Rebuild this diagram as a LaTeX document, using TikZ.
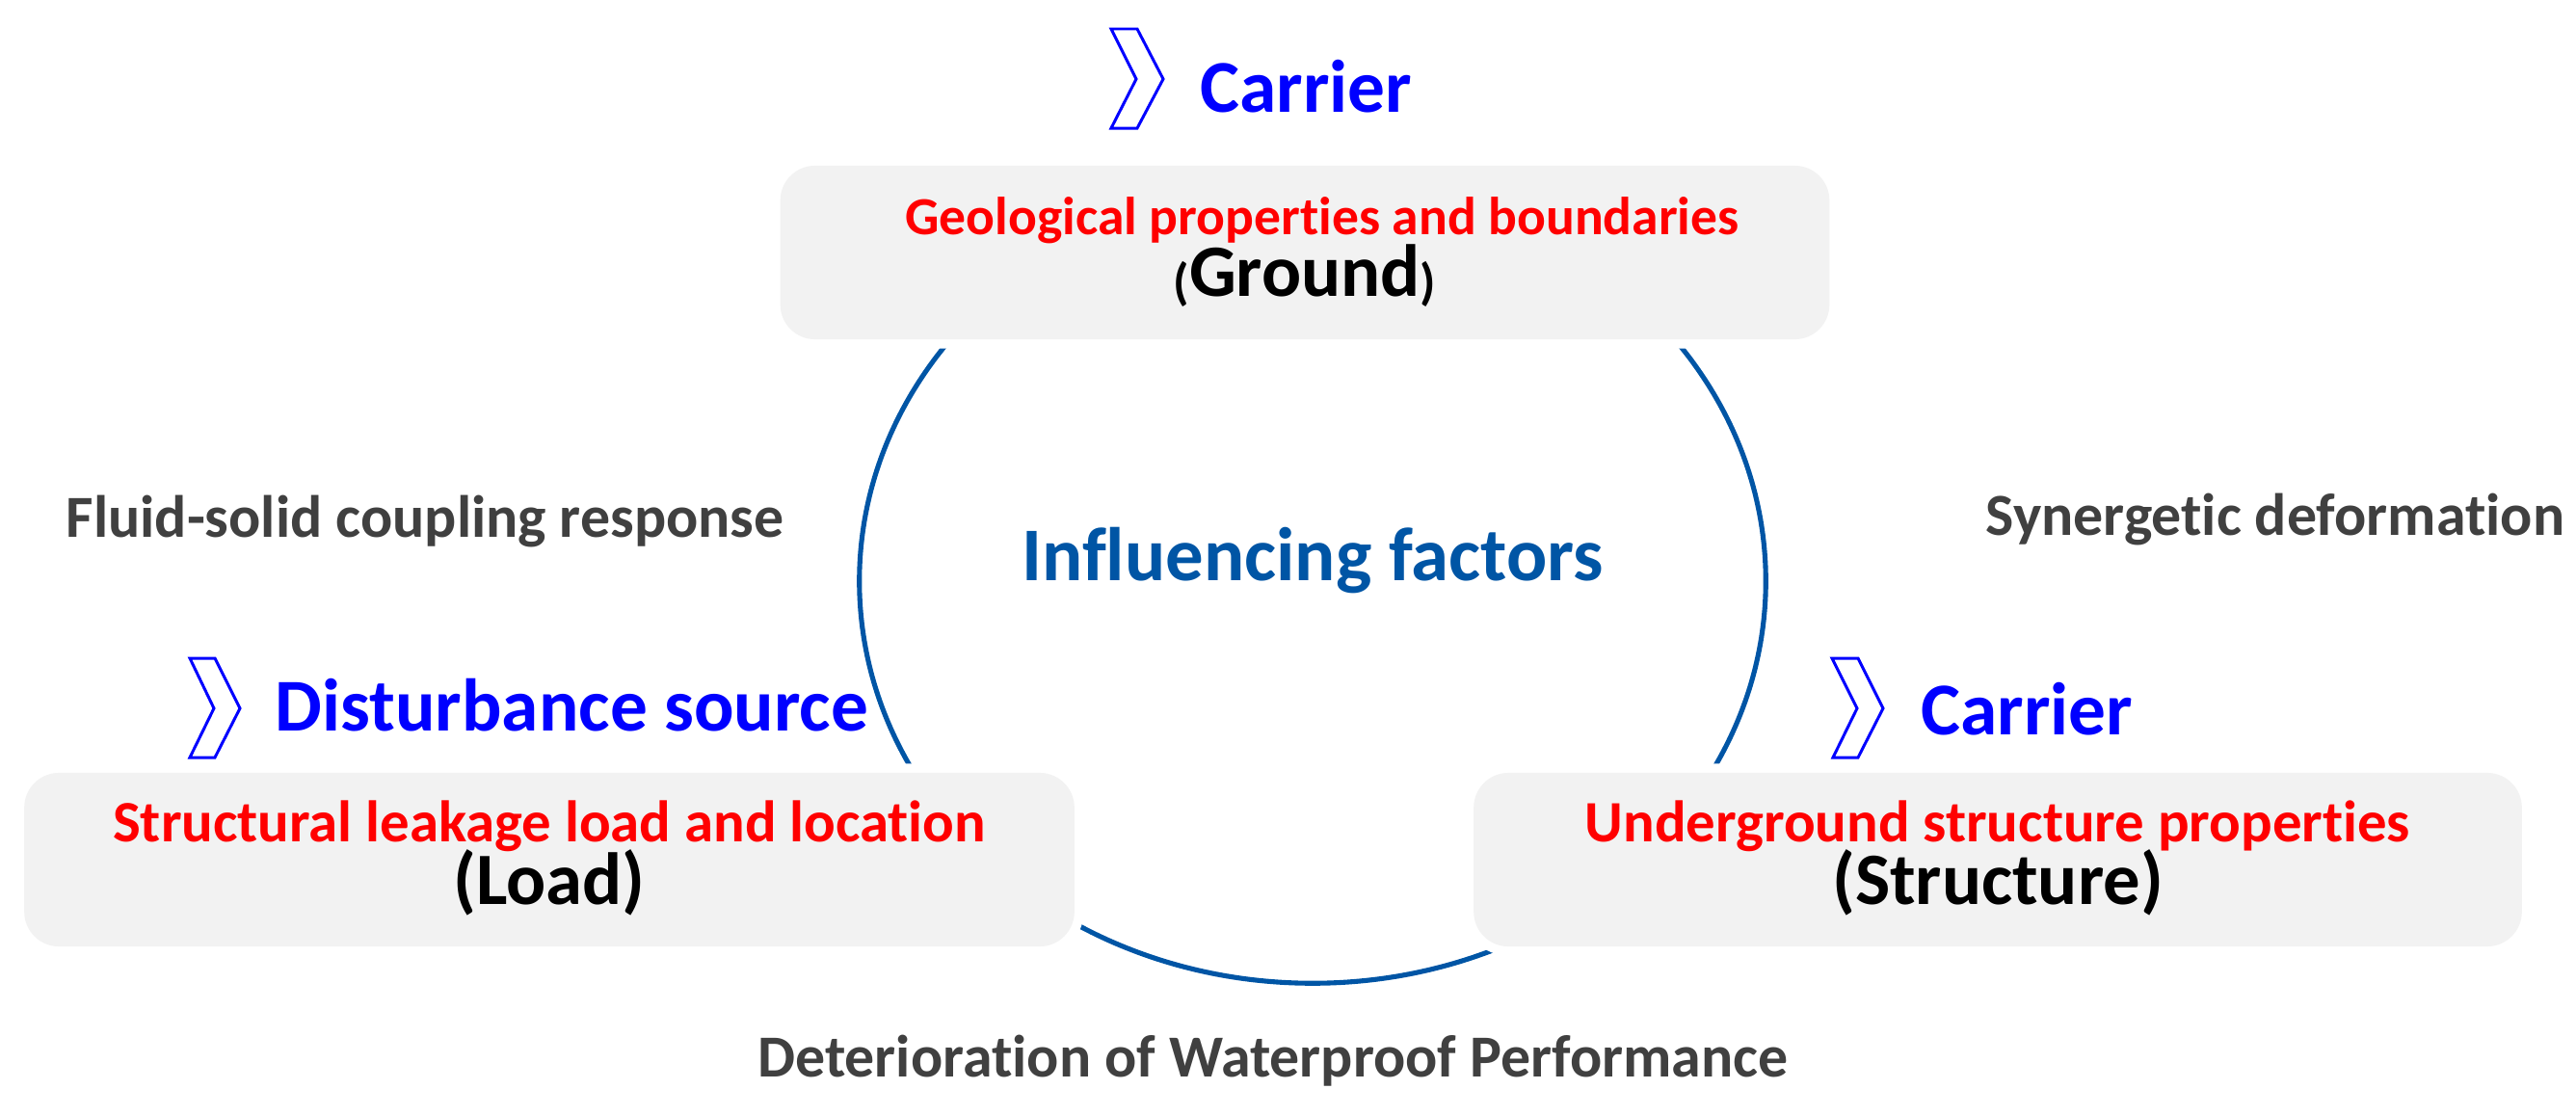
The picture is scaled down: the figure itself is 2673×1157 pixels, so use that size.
\documentclass[tikz,border=0pt]{standalone}
\usepackage{fontspec}
\setmainfont{Carlito}[Ligatures={NoCommon}]
\definecolor{ringblue}{RGB}{0,85,165}
\definecolor{chevblue}{RGB}{0,0,255}
\definecolor{boxgray}{RGB}{242,242,242}
\definecolor{textgray}{RGB}{64,64,64}
\definecolor{textred}{RGB}{255,0,0}
\begin{document}
\begin{tikzpicture}[x=0.01cm,y=-0.01cm,
  ring/.style={draw=ringblue, line width=1.45pt},
  gbox/.style={rectangle, rounded corners=0.36cm, fill=boxgray,
    preaction={draw=white, line width=5.5pt}, inner sep=0pt, minimum height=1.80cm},
  chev/.style={draw=chevblue, line width=0.85pt, line join=miter},
  head/.style={text=chevblue, font=\bfseries\fontsize{22pt}{26pt}\selectfont, inner sep=0pt},
  centre/.style={text=ringblue, font=\bfseries\fontsize{22.4pt}{26pt}\selectfont, inner sep=0pt},
  redtxt/.style={text=textred, font=\bfseries\fontsize{17.3pt}{20pt}\selectfont, inner sep=0pt},
  redtop/.style={text=textred, font=\bfseries\fontsize{15.8pt}{19pt}\selectfont, inner sep=0pt},
  blktxt/.style={text=black, font=\bfseries\fontsize{21.8pt}{25pt}\selectfont, inner sep=0pt},
  graytxt/.style={text=textgray, font=\bfseries\fontsize{17.6pt}{20pt}\selectfont, inner sep=0pt},
]
\useasboundingbox (0,0) rectangle (2673,1157);

% central ring (drawn first, boxes cover it)
\coordinate (ringc) at (1362,603);
\draw[ring] (ringc) ellipse [x radius=4.70cm, y radius=4.17cm];
\node[centre, anchor=base] (infl) at (1362,602) {Influencing factors};

% boxes
\node[gbox, minimum width=10.88cm] (ground) at (1354,262) {};
\node[gbox, minimum width=10.89cm] (load) at (570,892) {};
\node[gbox, minimum width=10.87cm] (struct) at (2073,892) {};

% box texts
\node[redtop, anchor=base] (groundr) at (1372,243) {Geological properties and boundaries};
\node[blktxt, anchor=base] (groundb) at (1354,307) {\raisebox{-1pt}{\fontsize{15pt}{18pt}\selectfont(}Ground\raisebox{-1pt}{\fontsize{15pt}{18pt}\selectfont)}};
\node[redtxt, anchor=base] (loadr) at (570,873) {Structural leakage load and location};
\node[blktxt, anchor=base] (loadb) at (570,938) {(Load)};
\node[redtxt, anchor=base] (structr) at (2073,873) {Underground structure properties};
\node[blktxt, anchor=base] (structb) at (2073,938) {(Structure)};

% chevrons and headings
\coordinate (chevtop) at (1153,30);
\draw[chev] (chevtop) -- ++(27,0) -- ++(27,52) -- ++(-27,51) -- ++(-27,0) -- ++(26,-51) -- cycle;
\node[head, anchor=base west] (carrtop) at (1245,116) {Carrier};

\coordinate (chevleft) at (197,683);
\draw[chev] (chevleft) -- ++(26,0) -- ++(26,52) -- ++(-26,51) -- ++(-26,0) -- ++(25,-51) -- cycle;
\node[head, anchor=base west] (dist) at (285,758) {Disturbance source};

\coordinate (chevright) at (1901,683);
\draw[chev] (chevright) -- ++(27,0) -- ++(26,52) -- ++(-26,51) -- ++(-26,0) -- ++(25,-51) -- cycle;
\node[head, anchor=base west] (carrright) at (1993,762) {Carrier};

% relation labels
\node[graytxt, anchor=base west] (fluid) at (68,557) {Fluid-solid coupling response};
\node[graytxt, anchor=base west] (syn) at (2060,555) {Synergetic deformation};
\node[graytxt, anchor=base] (deter) at (1321,1117) {Deterioration of Waterproof Performance};
\end{tikzpicture}
\end{document}
